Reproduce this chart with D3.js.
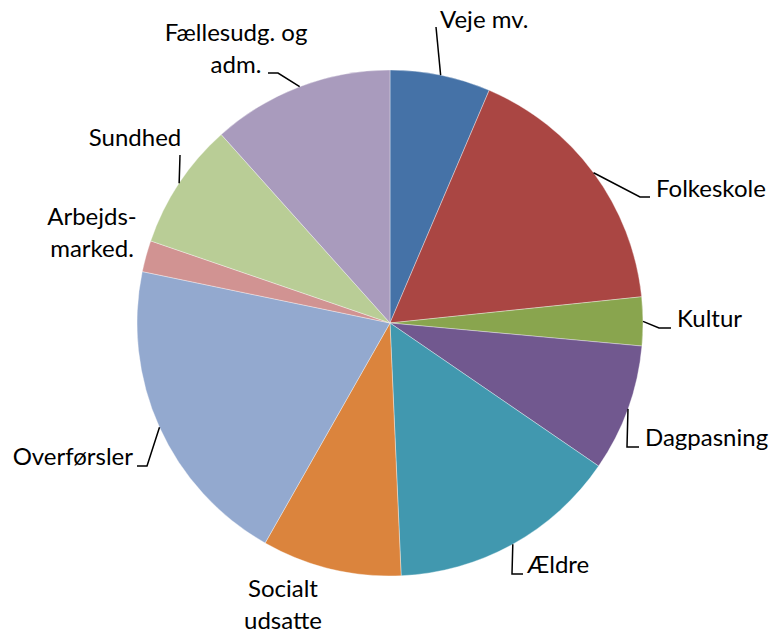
<!DOCTYPE html>
<html>
<head>
<meta charset="utf-8">
<script src="https://cdn.jsdelivr.net/npm/d3@7"></script>
<style>
  body { margin: 0; background: #fff; }
  text { font-family: Lato, "Open Sans", sans-serif; font-size: 24px; fill: #000; }
</style>
</head>
<body>
<svg id="chart" width="772" height="635"></svg>
<script>
// slice data (share of budget, %)
const categories = ["Veje mv.", "Folkeskole", "Kultur", "Dagpasning", "Ældre",
  "Socialt udsatte", "Overførsler", "Arbejdsmarked.", "Sundhed", "Fællesudg. og adm."];
const values = [6.4, 16.9, 3.1, 8.1, 14.7, 8.9, 20.0, 2.0, 8.1, 11.6];
const colors = ["#4572A7", "#AA4643", "#89A54E", "#71588F", "#4198AF",
  "#DB843D", "#93A9CF", "#D19392", "#B9CD96", "#A99BBD"];
// label text split into lines
const labelLines = [["Veje mv."], ["Folkeskole"], ["Kultur"], ["Dagpasning"], ["Ældre"],
  ["Socialt", "udsatte"], ["Overførsler"], ["Arbejds-", "marked."], ["Sundhed"], ["Fællesudg. og", "adm."]];

// label layout: anchor point, alignment, leader route (null = no leader)
const labelLayout = [
  {x: 440, y: 28, anchor: "start", leader: [[436, 27]]},
  {x: 656, y: 197, anchor: "start", leader: [[640, 197], [650, 197]]},
  {x: 677, y: 327, anchor: "start", leader: [[659, 328], [671, 328]]},
  {x: 645, y: 446, anchor: "start", leader: [[627, 447], [639, 447]]},
  {x: 527, y: 573, anchor: "start", leader: [[512, 574], [523, 574]]},
  {x: 283, y: 597, anchor: "middle", leader: null},
  {x: 133, y: 465, anchor: "end", leader: [[147, 466], [137, 466]]},
  {x: 92, y: 225, anchor: "middle", leader: null},
  {x: 135, y: 146, anchor: "middle", leader: [[180, 155]]},
  {x: 236, y: 41, anchor: "middle", leader: [[278, 73], [268, 73]]}
];

const cx = 390, cy = 323, r = 253;
const svg = d3.select("#chart");
const g = svg.append("g").attr("transform", `translate(${cx},${cy})`);

const pie = d3.pie().sort(null).value(d => d)(values);
const arc = d3.arc().innerRadius(0).outerRadius(r);

g.selectAll("path.slice")
  .data(pie)
  .join("path")
  .attr("class", "slice")
  .attr("d", arc)
  .attr("fill", (d, i) => colors[i])
  .attr("stroke", "#fff")
  .attr("stroke-opacity", 0.6)
  .attr("stroke-width", 0.6);

// leader lines start on the rim at each slice's mid angle
const line = d3.line();
pie.forEach((d, i) => {
  const lay = labelLayout[i];
  if (!lay.leader) return;
  const a = (d.startAngle + d.endAngle) / 2;
  const start = [cx + r * Math.sin(a), cy - r * Math.cos(a)];
  svg.append("path")
    .attr("d", line([start, ...lay.leader]))
    .attr("fill", "none")
    .attr("stroke", "#000")
    .attr("stroke-width", 1.5);
});

labelLayout.forEach((lay, i) => {
  const t = svg.append("text")
    .attr("x", lay.x)
    .attr("y", lay.y)
    .attr("text-anchor", lay.anchor);
  labelLines[i].forEach((s, k) => {
    t.append("tspan").attr("x", lay.x).attr("dy", k === 0 ? 0 : 32).text(s);
  });
});
</script>
</body>
</html>
